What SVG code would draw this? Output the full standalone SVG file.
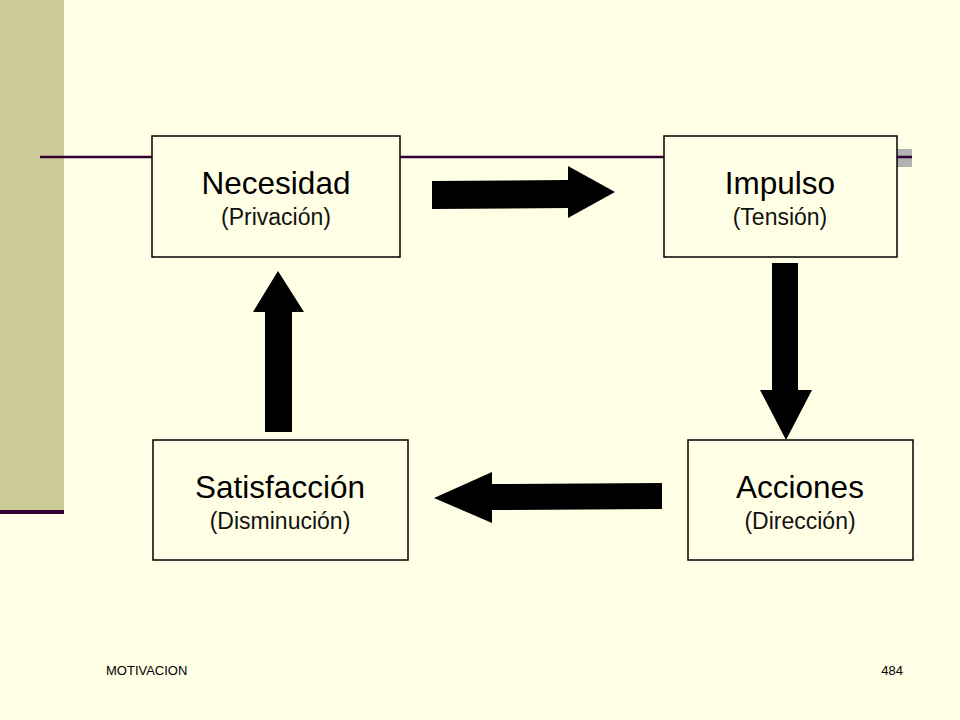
<svg xmlns="http://www.w3.org/2000/svg" width="960" height="720" viewBox="0 0 960 720">
<style>
.box{fill:#FFFFE5;stroke:#000;stroke-width:1.5}
.t{font-family:"Liberation Sans",Arial,sans-serif;font-size:31.5px;fill:#000;text-anchor:middle}
.s{font-family:"Liberation Sans",Arial,sans-serif;font-size:23px;fill:#111;text-anchor:middle}
.f{font-family:"Liberation Sans",Arial,sans-serif;font-size:13px;fill:#000}
.arr{fill:#000}
</style>
<rect width="960" height="720" fill="#FFFFE5"/>
<g id="decor">
<rect x="0" y="0" width="64" height="511" fill="#CCCC99"/>
<rect x="0" y="510" width="64" height="4" fill="#330033"/>
<rect x="897" y="149" width="15" height="18" fill="#B2B2B2"/>
<line x1="40" y1="157" x2="912" y2="157" stroke="#330033" stroke-width="2.5"/>
</g>
<g id="connectors">
<polygon class="arr" points="432,181 568,180 568,166 615,192 568,218 568,208 432,209"/>
<polygon class="arr" points="772,263 798,263 798,390 812,390 786,440 760,390 772,390"/>
<polygon class="arr" points="662,483 492,484 492,472 434,498 492,523 492,510 662,509"/>
<polygon class="arr" points="265,432 292,432 292,312 304,312 278,271 253,312 265,312"/>
</g>
<g id="necesidad">
<rect class="box" x="152" y="136" width="248" height="121"/>
<text class="t" x="276" y="194">Necesidad</text>
<text class="s" x="276" y="225">(Privación)</text>
</g>
<g id="impulso">
<rect class="box" x="664" y="136" width="233" height="121"/>
<text class="t" x="780" y="194">Impulso</text>
<text class="s" x="780" y="225">(Tensión)</text>
</g>
<g id="acciones">
<rect class="box" x="688" y="440" width="225" height="120"/>
<text class="t" x="800" y="498">Acciones</text>
<text class="s" x="800" y="529">(Dirección)</text>
</g>
<g id="satisfaccion">
<rect class="box" x="153" y="440" width="255" height="120"/>
<text class="t" x="280" y="498">Satisfacción</text>
<text class="s" x="280" y="529">(Disminución)</text>
</g>
<g id="footer">
<text class="f" x="106" y="675">MOTIVACION</text>
<text class="f" x="903" y="675" text-anchor="end">484</text>
</g>
</svg>
